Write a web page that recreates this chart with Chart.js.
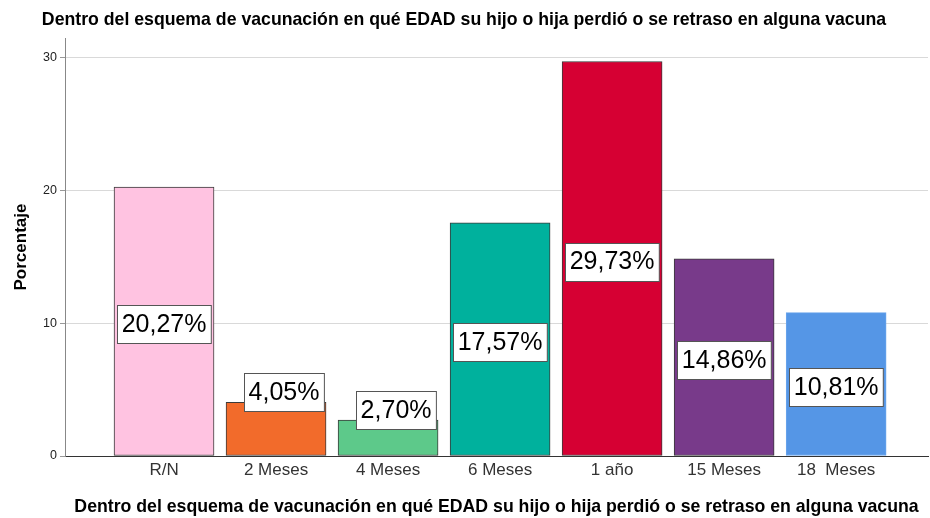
<!DOCTYPE html>
<html>
<head>
<meta charset="utf-8">
<script src="https://cdn.jsdelivr.net/npm/chart.js@4/dist/chart.umd.min.js"></script>
<style>
  html, body { margin: 0; padding: 0; background: #fff; }
  #grafico { display: block; }
</style>
</head>
<body>
<canvas id="grafico" width="930" height="518"></canvas>
<script>
// Datos del gráfico
const titulo = 'Dentro del esquema de vacunación en qué EDAD su hijo o hija perdió o se retraso en alguna vacuna';
const categorias = ['R/N', '2 Meses', '4 Meses', '6 Meses', '1 año', '15 Meses', '18  Meses'];
const porcentajes = [20.27, 4.05, 2.70, 17.57, 29.73, 14.86, 10.81];
const ticksY = [0, 10, 20, 30];

// Colores de las barras
const rellenos = ['#ffc3e1', '#f26b2b', '#5dc98a', '#00b19d', '#d60033', '#783a8a', '#5596e6'];
const bordes = ['#3a3a3a', '#3a3a3a', '#3a3a3a', '#3a3a3a', '#3a3a3a', '#3a3a3a', '#6aa5ec'];

const fuente = 'Arial, "Liberation Sans", sans-serif';

// Etiquetas con recuadro blanco dentro de cada barra
const etiquetasBarras = {
  id: 'etiquetasBarras',
  afterDatasetsDraw(chart) {
    const ctx = chart.ctx;
    const meta = chart.getDatasetMeta(0);
    ctx.save();
    ctx.font = '25px ' + fuente;
    ctx.textAlign = 'center';
    ctx.textBaseline = 'middle';
    meta.data.forEach((barra, i) => {
      const texto = porcentajes[i].toFixed(2).replace('.', ',') + '%';
      const ancho = ctx.measureText(texto).width + 9;
      const alto = 38;
      const altoBarra = barra.base - barra.y;
      let cx = barra.x;
      let cy = (barra.y + barra.base) / 2 + 3;
      if (altoBarra < 80) {
        cy = barra.y - 10;
        cx = barra.x + 8;
      }
      const x0 = Math.round(cx - ancho / 2) + 0.5;
      const y0 = Math.round(cy - alto / 2) + 0.5;
      ctx.fillStyle = '#ffffff';
      ctx.fillRect(x0, y0, ancho, alto);
      ctx.strokeStyle = '#555555';
      ctx.lineWidth = 1;
      ctx.strokeRect(x0, y0, ancho, alto);
      ctx.fillStyle = '#000000';
      ctx.fillText(texto, cx, cy + 1);
    });
    ctx.restore();
  }
};

new Chart(document.getElementById('grafico'), {
  type: 'bar',
  data: {
    datasets: [{
      data: porcentajes.map((v, i) => ({ x: i, y: v })),
      backgroundColor: rellenos,
      borderColor: bordes,
      borderWidth: 1,
      borderSkipped: false,
      barThickness: 100
    }]
  },
  options: {
    responsive: false,
    animation: false,
    devicePixelRatio: 1,
    layout: { padding: { left: 0, right: 2, top: 0, bottom: 0 } },
    plugins: {
      legend: { display: false },
      tooltip: { enabled: false },
      title: {
        display: true,
        text: titulo,
        color: '#000',
        font: { family: fuente, size: 17.7, weight: 'bold' },
        padding: { top: 9.5, bottom: 7.3 }
      }
    },
    scales: {
      x: {
        type: 'linear',
        offset: false,
        min: -0.884,
        max: 6.82,
        afterFit(scale) { scale.height = 62; },
        afterBuildTicks(scale) {
          scale.ticks = categorias.map((c, i) => ({ value: i }));
        },
        grid: { display: false, drawTicks: false, tickLength: 0 },
        border: { display: true, color: '#333', width: 1 },
        ticks: {
          autoSkip: false,
          maxRotation: 0,
          padding: 4,
          color: '#333',
          font: { family: fuente, size: 17 },
          callback: (v) => categorias[v]
        },
        title: {
          display: true,
          text: titulo,
          color: '#000',
          font: { family: fuente, size: 17.7, weight: 'bold' },
          padding: { top: 0, bottom: 0 }
        }
      },
      y: {
        min: 0,
        max: 31.5,
        afterFit(scale) { scale.width = 65; },
        afterBuildTicks(scale) {
          scale.ticks = ticksY.map(v => ({ value: v }));
        },
        grid: { color: '#d9d9d9', tickColor: '#999', tickLength: 5, lineWidth: 1 },
        border: { display: true, color: '#888', width: 1 },
        ticks: {
          padding: 3,
          color: '#222',
          font: { family: fuente, size: 12.5 }
        },
        title: {
          display: true,
          text: 'Porcentaje',
          color: '#000',
          font: { family: fuente, size: 17, weight: 'bold' },
          padding: { top: 11, bottom: 0 }
        }
      }
    }
  },
  plugins: [etiquetasBarras]
});
</script>
</body>
</html>
